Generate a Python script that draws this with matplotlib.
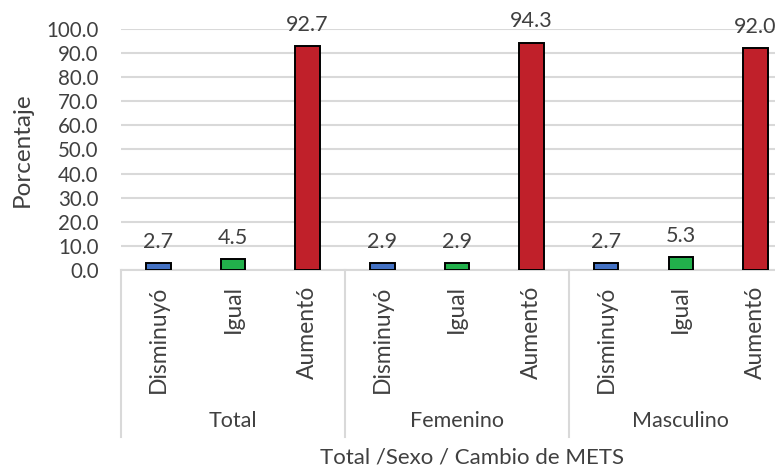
import matplotlib
matplotlib.use("Agg")
import matplotlib.pyplot as plt
from matplotlib.transforms import blended_transform_factory

# data
groups = ["Total", "Femenino", "Masculino"]
changes = ["Disminuyó", "Igual", "Aumentó"]
values = [2.7, 4.5, 92.7, 2.9, 2.9, 94.3, 2.7, 5.3, 92.0]
change_colors = {"Disminuyó": "#4472C4", "Igual": "#22B04B", "Aumentó": "#C0202A"}

plt.rcParams["font.family"] = ["Lato", "DejaVu Sans"]
TXT = "#404040"
GRID = "#D9D9D9"

fig = plt.figure(figsize=(7.75, 4.72), dpi=100)
ax = fig.add_axes([0.156, 0.428, 0.867, 0.511])

x = list(range(len(values)))
labels = [changes[i % 3] for i in x]
colors = [change_colors[c] for c in labels]
bars = ax.bar(x, values, width=0.33, color=colors, edgecolor="black",
              linewidth=1.4, zorder=3)

for b, v in zip(bars, values):
    ax.annotate(f"{v:.1f}", (b.get_x() + b.get_width() / 2, v),
                xytext=(0, 11), textcoords="offset points",
                ha="center", va="baseline", fontsize=15.5, color=TXT)

ax.set_xlim(-0.5, len(values) - 0.5)
ax.set_ylim(0, 100)
ax.set_yticks(range(0, 101, 10))
ax.set_yticklabels([f"{t:.1f}" for t in range(0, 101, 10)])
ax.yaxis.grid(True, color=GRID, linewidth=1.5, zorder=0)
ax.tick_params(axis="y", length=0, pad=16, labelsize=14.8, labelcolor=TXT)

ax.set_xticks(x)
ax.set_xticklabels(labels, rotation=90, va="top")
ax.tick_params(axis="x", length=0, pad=11, labelsize=16.5, labelcolor=TXT)

for s in ["top", "right", "left"]:
    ax.spines[s].set_visible(False)
ax.spines["bottom"].set_color(GRID)
ax.spines["bottom"].set_linewidth(1.5)

# grouped category axis
trans = blended_transform_factory(ax.transData, ax.transAxes)
for i, g in enumerate(groups):
    left = i * 3 - 0.5
    ax.plot([left, left], [0, -0.693], transform=trans, color=GRID,
            linewidth=1.5, clip_on=False)
    ax.text(left + 1.5, -0.627, g, transform=trans, ha="center", va="center",
            fontsize=15.5, color=TXT)

fig.text(22 / 775, 0.682, "Porcentaje", rotation=90, ha="center", va="center",
         fontsize=17.5, color=TXT)
fig.text(472 / 775, 1 - 458 / 472, "Total /Sexo / Cambio de METS",
         ha="center", va="center", fontsize=16, color=TXT)

fig.savefig("out.png", dpi=100)
